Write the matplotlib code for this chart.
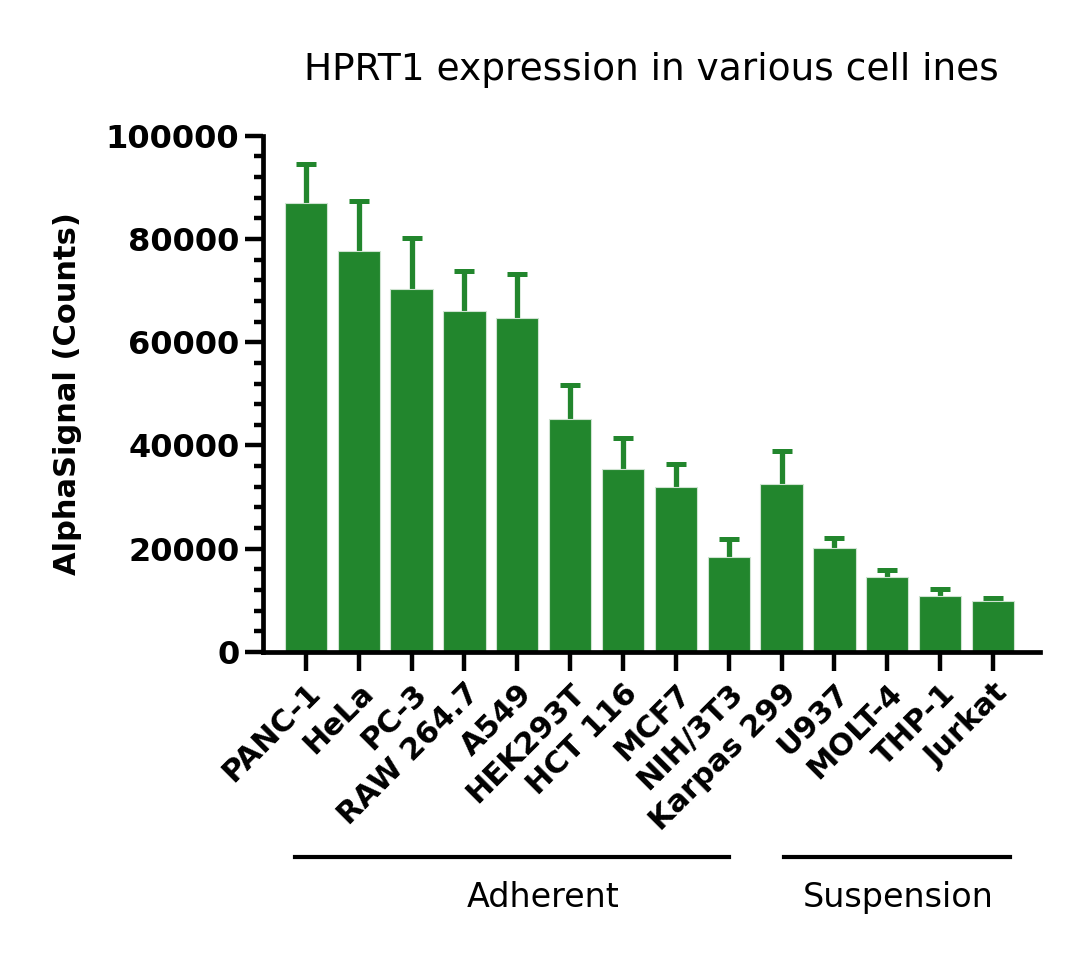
import numpy as np
import matplotlib.pyplot as plt
from matplotlib.ticker import MultipleLocator
import matplotlib.transforms as mtransforms

cells = ['PANC-1', 'HeLa', 'PC-3', 'RAW 264.7', 'A549', 'HEK293T', 'HCT 116',
         'MCF7', 'NIH/3T3', 'Karpas 299', 'U937', 'MOLT-4', 'THP-1', 'Jurkat']
signal = [87000, 77700, 70300, 66100, 64700, 45200, 35500,
          31900, 18500, 32500, 20100, 14600, 10900, 9800]
err_top = [94600, 87300, 80100, 73800, 73300, 51700, 41500,
           36500, 21800, 39000, 22000, 15900, 12300, 10400]
err = [t - s for t, s in zip(err_top, signal)]

groups = ['Adherent', 'Suspension']
group_span = [(-0.2, 8.0), (9.05, 13.32)]
group_label_x = [4.49, 11.2]

green = '#22862d'

fig = plt.figure(figsize=(10.8, 9.59), dpi=100)
ax = fig.add_axes([0.2435, 0.3201, 0.7195, 0.5384])

x = np.arange(len(cells))
# symmetric error bars drawn under the bars, so only the upper half shows
ax.errorbar(x, signal, yerr=err, fmt='none', ecolor=green,
            elinewidth=3.8, capsize=7.5, capthick=3.6, zorder=1)
ax.bar(x, signal, width=0.8, color=green, edgecolor='#cfe3d1', linewidth=0.8, zorder=2)

ax.set_xlim(-0.81, 13.89)
ax.set_ylim(0, 100000)
ax.yaxis.set_major_locator(MultipleLocator(20000))
ax.yaxis.set_minor_locator(MultipleLocator(4000))

for s in ['top', 'right']:
    ax.spines[s].set_visible(False)
for s in ['left', 'bottom']:
    ax.spines[s].set_linewidth(3.4)

ax.tick_params(axis='y', which='major', length=13, width=3.2, labelsize=23, pad=4)
ax.tick_params(axis='y', which='minor', length=6.5, width=3.2)
ax.tick_params(axis='x', which='major', length=14, width=3.2, labelsize=22, pad=5)
for lab in ax.get_yticklabels():
    lab.set_fontweight('bold')

ax.set_xticks(x)
ax.set_xticklabels(cells, rotation=45, ha='right', rotation_mode='anchor', fontweight='bold')

ax.set_ylabel('AlphaSignal (Counts)', fontsize=22, fontweight='bold', labelpad=17)
ax.set_title('HPRT1 expression in various cell ines', fontsize=27, pad=40)

trans = mtransforms.blended_transform_factory(ax.transData, ax.transAxes)
for name, (a, b), tx in zip(groups, group_span, group_label_x):
    ax.plot([a, b], [-0.397, -0.397], color='black', lw=3, transform=trans, clip_on=False)
    ax.text(tx, -0.475, name, transform=trans, ha='center', va='center', fontsize=24)

fig.savefig('out.png', dpi=100)
